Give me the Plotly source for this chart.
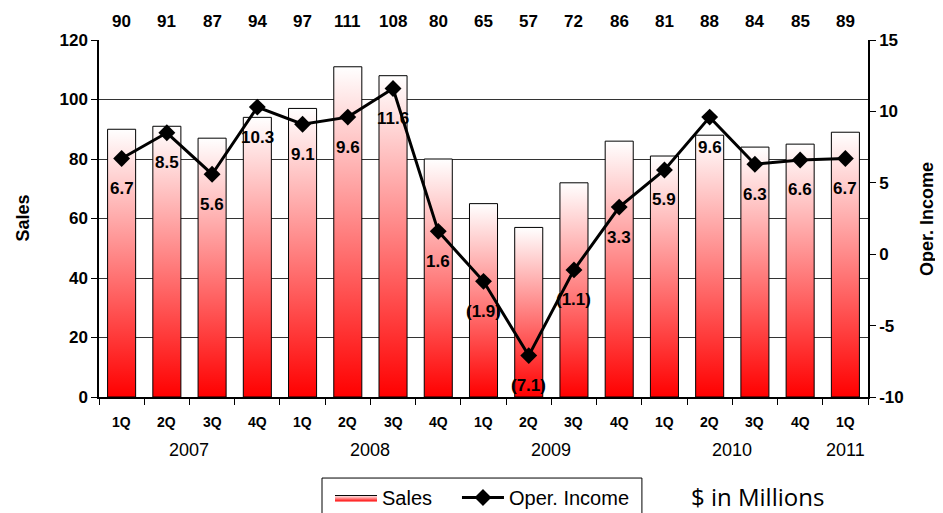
import plotly.graph_objects as go

quarters = ['1Q', '2Q', '3Q', '4Q', '1Q', '2Q', '3Q', '4Q', '1Q', '2Q', '3Q', '4Q',
            '1Q', '2Q', '3Q', '4Q', '1Q']
years = ['2007'] * 4 + ['2008'] * 4 + ['2009'] * 4 + ['2010'] * 4 + ['2011']
sales = [90, 91, 87, 94, 97, 111, 108, 80, 65, 57, 72, 86, 81, 88, 84, 85, 89]
oper_income = [6.7, 8.5, 5.6, 10.3, 9.1, 9.6, 11.6, 1.6, -1.9, -7.1, -1.1, 3.3,
               5.9, 9.6, 6.3, 6.6, 6.7]
sales_ticks = [0, 20, 40, 60, 80, 100, 120]
income_ticks = [-10, -5, 0, 5, 10, 15]

FONT = 'Liberation Sans'
BAR_W = 0.62
n = len(sales)
xs = list(range(n))

fig = go.Figure()

# Sales bars drawn as gradient-filled rectangles
for i, v in zip(xs, sales):
    fig.add_trace(go.Scatter(
        x=[i - BAR_W / 2, i + BAR_W / 2, i + BAR_W / 2, i - BAR_W / 2, i - BAR_W / 2],
        y=[0, 0, v, v, 0],
        mode='lines', fill='toself',
        line=dict(color='black', width=1),
        fillgradient=dict(type='vertical', start=0, stop=v,
                          colorscale=[[0, '#ff0000'], [1, '#ffffff']]),
        name='Sales', legendgroup='sales', showlegend=(i == 0), legend='legend',
        hoverinfo='skip', xaxis='x', yaxis='y'))

fig.add_trace(go.Scatter(
    x=xs, y=oper_income, mode='lines+markers', name='Oper. Income',
    line=dict(color='black', width=3),
    marker=dict(symbol='diamond', size=13, color='black'),
    legend='legend2', xaxis='x', yaxis='y2', hoverinfo='skip'))

def fmt(v):
    return f'({abs(v):.1f})' if v < 0 else f'{v:.1f}'

annotations = []
for i, v in zip(xs, oper_income):
    annotations.append(dict(x=i, y=v, xref='x', yref='y2', text=fmt(v),
                            showarrow=False, yshift=-30, xanchor='center',
                            font=dict(family=FONT, size=17, color='black', weight='bold')))
for i, v in zip(xs, sales):
    annotations.append(dict(x=i, y=1.053, xref='x', yref='paper', text=str(v),
                            showarrow=False, yanchor='middle', xanchor='center',
                            font=dict(family=FONT, size=17, color='black', weight='bold')))
for i, q in zip(xs, quarters):
    annotations.append(dict(x=i, y=-0.07, xref='x', yref='paper', text=q,
                            showarrow=False, yanchor='middle', xanchor='center',
                            font=dict(family=FONT, size=14, color='black', weight='bold')))
seen = []
for y in years:
    if y not in seen:
        seen.append(y)
for y in seen:
    idx = [i for i, yy in zip(xs, years) if yy == y]
    annotations.append(dict(x=sum(idx) / len(idx), y=-0.148, xref='x', yref='paper',
                            text=y, showarrow=False, yanchor='middle', xanchor='center',
                            font=dict(family=FONT, size=18, color='black')))
annotations.append(dict(x=-0.1, y=0.5, xref='paper', yref='paper', text='Sales',
                        textangle=-90, showarrow=False, xanchor='center', yanchor='middle',
                        font=dict(family=FONT, size=18, color='black', weight='bold')))
annotations.append(dict(x=1.076, y=0.5, xref='paper', yref='paper', text='Oper. Income',
                        textangle=-90, showarrow=False, xanchor='center', yanchor='middle',
                        font=dict(family=FONT, size=18, color='black', weight='bold')))
annotations.append(dict(x=0.856, y=-0.28, xref='paper', yref='paper', text='$ in Millions',
                        showarrow=False, yanchor='middle', xanchor='center',
                        font=dict(family='Open Sans', size=24, color='black')))

legend_style = dict(orientation='h', xanchor='left', y=-0.227, yanchor='top',
                    borderwidth=0, bgcolor='rgba(0,0,0,0)',
                    font=dict(family=FONT, size=20, color='black'), itemwidth=42)

fig.update_layout(
    width=935, height=505,
    margin=dict(l=91, r=75, t=32, b=116, autoexpand=False),
    paper_bgcolor='white', plot_bgcolor='white',
    showlegend=True,
    legend=dict(legend_style, x=0.3004),
    legend2=dict(legend_style, x=0.4655),
    shapes=[dict(type='rect', xref='paper', yref='paper', x0=0.290, x1=0.706,
                 y0=-0.227, y1=-0.34, line=dict(color='black', width=1),
                 fillcolor='white', layer='below')],
    xaxis=dict(range=[-0.5, n - 0.5], showgrid=False, zeroline=False,
               showline=True, linecolor='black', linewidth=1.5,
               tickvals=[], showticklabels=False,
               minor=dict(tickvals=[i - 0.5 for i in range(n + 1)], ticks='outside',
                          ticklen=6, tickcolor='black', showgrid=False)),
    yaxis=dict(range=[0, 120], tickvals=sales_ticks, ticktext=[str(t) for t in sales_ticks],
               showgrid=True, gridcolor='#333333',
               gridwidth=1, zeroline=False, showline=True, linecolor='black', linewidth=1.5,
               ticks='outside', ticklen=6, tickcolor='black',
               tickfont=dict(family=FONT, size=17, color='black', weight='bold')),
    yaxis2=dict(range=[-10, 15], tickvals=income_ticks,
                ticktext=[str(t) for t in income_ticks], overlaying='y', side='right',
                showgrid=False, zeroline=False, showline=True, linecolor='black',
                linewidth=1.5, ticks='outside', ticklen=6, tickcolor='black',
                tickfont=dict(family=FONT, size=17, color='black', weight='bold')),
    annotations=annotations,
    hovermode=False,
)

fig.write_html('out.html')
